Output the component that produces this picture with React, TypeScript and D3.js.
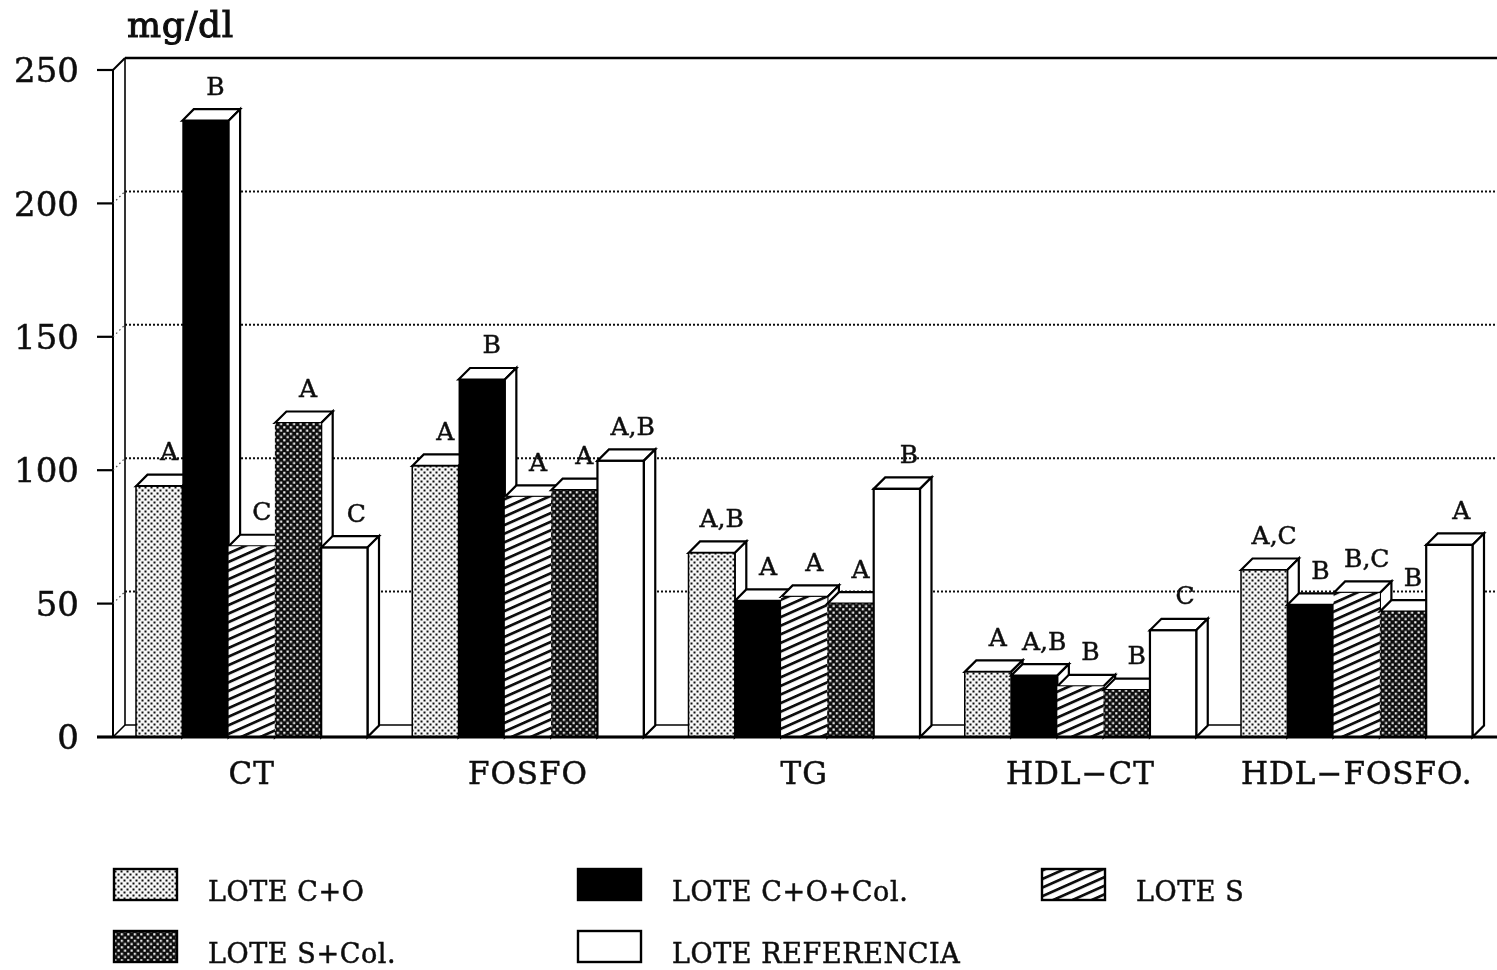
import React from "react";
import * as d3 from "d3";

const categories = ["CT", "FOSFO", "TG", "HDL−CT", "HDL−FOSFO."];
const seriesNames = ["LOTE C+O", "LOTE C+O+Col.", "LOTE S", "LOTE S+Col.", "LOTE REFERENCIA"];
const valuesCO = [94, 101.6, 69, 24.4, 62.6];
const valuesCOCol = [231, 134, 51, 23, 49.5];
const valuesS = [71.5, 90, 52.5, 19, 54];
const valuesSCol = [117.7, 92.5, 50, 17.6, 47];
const valuesRef = [71, 103.5, 93, 40, 72];
const lettersCO = ["A", "A", "A,B", "A", "A,C"];
const lettersCOCol = ["B", "B", "A", "A,B", "B"];
const lettersS = ["C", "A", "A", "B", "B,C"];
const lettersSCol = ["A", "A", "A", "B", "B"];
const lettersRef = ["C", "A,B", "B", "C", "A"];
const yTicks = [0, 50, 100, 150, 200, 250];

const series = [valuesCO, valuesCOCol, valuesS, valuesSCol, valuesRef];
const letters = [lettersCO, lettersCOCol, lettersS, lettersSCol, lettersRef];
const fills = ["url(#dots)", "#000", "url(#hatch)", "url(#dense)", "#fff"];

const serif = "'DejaVu Serif', serif";
const y = d3.scaleLinear().domain([0, 250]).range([737, 70]);
const xGroup = d3.scaleBand<number>().domain(d3.range(categories.length)).range([136, 1472.5]).paddingInner(0.162);
const xBar = d3.scaleBand<number>().domain(d3.range(seriesNames.length)).range([0, xGroup.bandwidth()]);
const depth = 11.5;
const legendX = [114, 578, 1042];
const legendY = [869, 931];

const pts = (a: number[][]) => a.map((p) => p.join(",")).join(" ");
const ink = { fill: "#111", stroke: "#111", strokeWidth: 0.5 };

export default function App() {
  const wallX = 113;
  const W = 1497;
  return (
    <svg width={W} height={970} viewBox={`0 0 ${W} 970`} style={{ position: "absolute", left: 0, top: 0, background: "#fff", display: "block" }}>
      <defs>
        <filter id="scan" x="0" y="0" width="100%" height="100%">
          <feGaussianBlur stdDeviation="0.45" />
        </filter>
        <pattern id="dots" width={6} height={6} patternUnits="userSpaceOnUse">
          <rect width={6} height={6} fill="#f6f6f6" />
          <rect x={0.5} y={0.5} width={2} height={2} fill="#111" />
          <rect x={3.5} y={3.5} width={2} height={2} fill="#111" />
        </pattern>
        <pattern id="dense" width={6.5} height={6.5} patternUnits="userSpaceOnUse">
          <rect width={6.5} height={6.5} fill="#0c0c0c" />
          <rect x={0.5} y={0.5} width={2.2} height={2.2} fill="#eee" />
          <rect x={3.75} y={3.75} width={2.2} height={2.2} fill="#eee" />
        </pattern>
        <pattern id="hatch" width={12} height={8.6} patternUnits="userSpaceOnUse" patternTransform="skewY(-24)">
          <rect width={12} height={8.6} fill="#fff" />
          <rect y={0} width={12} height={3} fill="#111" />
        </pattern>
      </defs>

      <g filter="url(#scan)">
        {/* back wall and floor */}
        <line x1={wallX + 12} y1={58} x2={W} y2={58} stroke="#000" strokeWidth={2.6} />
        <line x1={wallX + 12} y1={58} x2={wallX + 12} y2={725} stroke="#000" strokeWidth={1.6} />
        <line x1={wallX} y1={70} x2={wallX} y2={737} stroke="#000" strokeWidth={2} />
        <line x1={wallX} y1={70} x2={wallX + 12} y2={58} stroke="#000" strokeWidth={2} />
        <line x1={wallX} y1={737} x2={wallX + 12} y2={725} stroke="#000" strokeWidth={1.6} />
        <line x1={wallX + 12} y1={725} x2={W - 22} y2={725} stroke="#000" strokeWidth={1.6} />
        {yTicks.filter((t) => t > 0).slice(0, 4).map((t) => (
          <g key={t}>
            <line x1={wallX + 12} y1={y(t) - 12} x2={W} y2={y(t) - 12} stroke="#111" strokeWidth={2} strokeDasharray="2 2" />
            <line x1={wallX} y1={y(t)} x2={wallX + 12} y2={y(t) - 12} stroke="#444" strokeWidth={1.2} strokeDasharray="1.5 3" />
          </g>
        ))}

        {/* bars */}
        {categories.map((c, gi) => (
          <g key={c}>
            {series.map((vals, si) => {
              const x0 = xGroup(gi)! + xBar(si)!;
              const w = xBar.bandwidth();
              const t = y(vals[gi]);
              const b = y(0);
              return (
                <g key={si}>
                  <polygon points={pts([[x0, t], [x0 + depth, t - depth], [x0 + w + depth, t - depth], [x0 + w, t]])} fill="#fff" stroke="#000" strokeWidth={2.2} />
                  <polygon points={pts([[x0 + w, t], [x0 + w + depth, t - depth], [x0 + w + depth, b - depth], [x0 + w, b]])} fill="#fff" stroke="#000" strokeWidth={2.2} />
                  <rect x={x0} y={t} width={w} height={b - t} fill={fills[si]} stroke={si === 4 || si === 0 ? "#000" : "none"} strokeWidth={si === 0 ? 1.5 : 2.2} />
                </g>
              );
            })}
            {letters.map((ls, si) => (
              <text key={si} x={xGroup(gi)! + xBar(si)! + xBar.bandwidth() / 2 + (si === 4 ? 12 : 10)} y={y(series[si][gi]) - 35} dy="0.36em" textAnchor="middle" fontFamily={serif} fontSize={25} {...ink}>
                {ls[gi]}
              </text>
            ))}
          </g>
        ))}

        {/* axis */}
        <line x1={97} y1={737} x2={W} y2={737} stroke="#000" strokeWidth={2.8} />
        {yTicks.map((t) => (
          <g key={t}>
            <line x1={97} y1={y(t)} x2={wallX} y2={y(t)} stroke="#000" strokeWidth={2.2} />
            <text x={79} y={y(t)} dy="0.36em" textAnchor="end" fontFamily={serif} fontSize={34} {...ink}>{t}</text>
          </g>
        ))}
        {categories.map((c, gi) => (
          <text key={c} x={xGroup(gi)! + xGroup.bandwidth() / 2} y={773} dy="0.36em" textAnchor="middle" fontFamily={serif} fontSize={31} letterSpacing={1} {...ink}>{c}</text>
        ))}
        <text x={127} y={37} fontFamily={serif} fontSize={36} letterSpacing={0.6} {...ink} strokeWidth={1}>mg/dl</text>

        {/* legend */}
        {seriesNames.map((n, i) => {
          const lx = legendX[i % 3];
          const ly = legendY[Math.floor(i / 3)];
          return (
            <g key={n}>
              <rect x={lx} y={ly} width={63} height={31} fill={fills[i]} stroke="#000" strokeWidth={2.4} />
              <text x={lx + 94} y={ly + 32} fontFamily={serif} fontSize={27} letterSpacing={0.6} {...ink}>{n}</text>
            </g>
          );
        })}
      </g>
    </svg>
  );
}
